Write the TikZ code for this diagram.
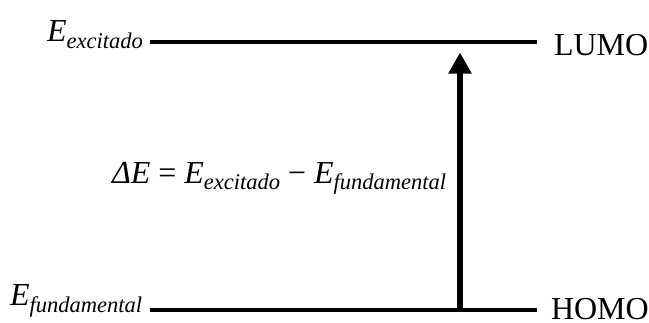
\documentclass[tikz,border=0pt]{standalone}
\usepackage{fontspec}
\setmainfont{Liberation Serif}
\usetikzlibrary{arrows.meta}
\newcommand{\EnSub}[1]{{\itshape E}\raisebox{-6.5pt}{\fontsize{22.5}{26}\selectfont\itshape #1}}
\tikzset{
  lbl/.style={inner sep=0pt, outer sep=0pt, anchor=base west, font=\fontsize{32}{36}\selectfont},
  level/.style={line width=3.5pt},
  transition/.style={line width=6pt, -{Triangle[width=22pt,length=21pt]}}
}
\begin{document}
\begin{tikzpicture}[x=1pt,y=-1pt]
\useasboundingbox (0,0) rectangle (649,322);
\node[lbl] (Eexc) at (47,41.5) {\EnSub{excitado}};
\node[lbl] (Efun) at (10,305.5) {\EnSub{fundamental}};
\node[lbl] (lumo) at (554,55) {LUMO};
\node[lbl] (homo) at (551,319.5) {HOMO};
\node[lbl] (eq) at (112,183) {{\itshape ΔE} = \EnSub{excitado} − \EnSub{fundamental}};
\coordinate (topL) at (150,42);
\coordinate (topR) at (537,42);
\coordinate (botL) at (150,310);
\coordinate (botR) at (537,310);
\coordinate (arrS) at (460,310);
\coordinate (arrE) at (460,52.5);
\draw[level] (topL) -- (topR);
\draw[level] (botL) -- (botR);
\draw[transition] (arrS) -- (arrE);
\end{tikzpicture}
\end{document}
